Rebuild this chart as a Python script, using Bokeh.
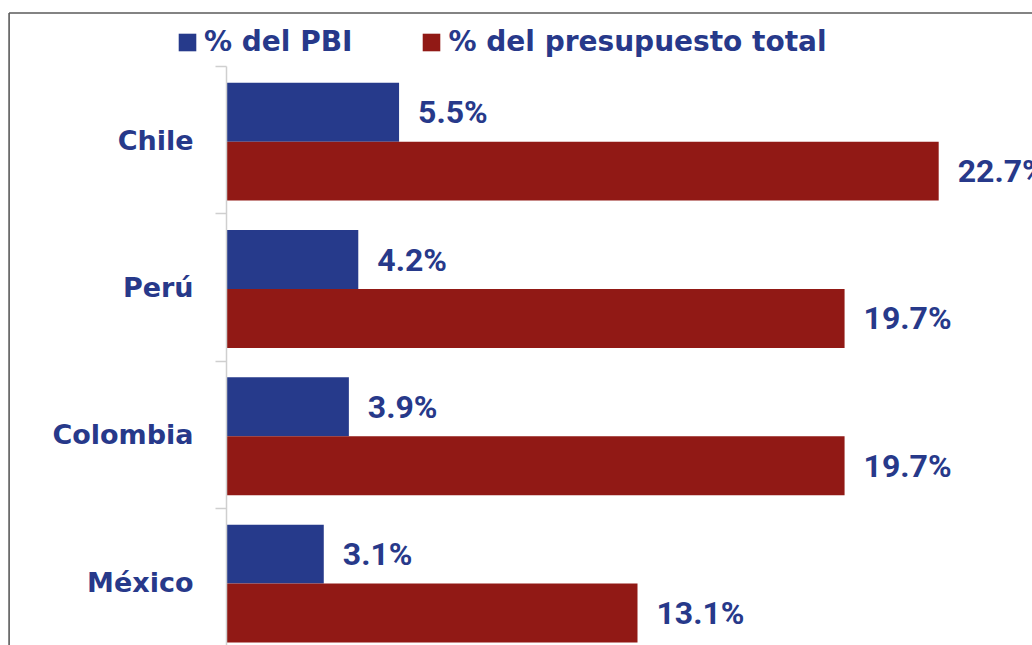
from bokeh.plotting import figure
from bokeh.models import (Range1d, LinearAxis, FixedTicker, Legend, LegendItem,
                          ColumnDataSource)
from bokeh.core.properties import value
from bokeh.embed import file_html
from bokeh.resources import INLINE

# ---- data ----
countries = ["Chile", "Perú", "Colombia", "México"]
pbi = [5.5, 4.2, 3.9, 3.1]
presupuesto = [22.7, 19.7, 19.7, 13.1]
series_names = ["% del PBI", "% del presupuesto total"]

# ---- style ----
BLUE = "#263a8b"
RED = "#911915"
TEXT = "#27398a"
AXIS = "#cfcfcf"
FONT_NUM = "Roboto"
FONT_TXT = "DejaVu Sans"

n = len(countries)
centers = [n - i - 0.5 for i in range(n)]
boundaries = list(range(n + 1))
BAR_H = 0.40
SPLIT = -0.01
y_pbi = [c + SPLIT + BAR_H / 2 for c in centers]
y_pre = [c + SPLIT - BAR_H / 2 for c in centers]

W, H = 1032, 645
x_start, x_end = -7.204, 25.69
y_start, y_end = 0.070, 4.448
xb, yb = -6.93, 4.363

src_pbi = ColumnDataSource(dict(country=countries, y=y_pbi, v=pbi,
                                lab=[f"{v:.1f}%" for v in pbi]))
src_pre = ColumnDataSource(dict(country=countries, y=y_pre, v=presupuesto,
                                lab=[f"{v:.1f}%" for v in presupuesto]))

p = figure(width=W, height=H, output_backend="svg", toolbar_location=None,
           x_range=Range1d(x_start, x_end), y_range=Range1d(y_start, y_end),
           x_axis_type=None, y_axis_type=None, min_border=0,
           outline_line_color=None, background_fill_color="white",
           border_fill_color="white")

# outer frame (top and left)
p.segment(x0=[xb, xb], y0=[y_start, yb], x1=[xb, x_end], y1=[yb, yb],
          line_color="#5a5a5a", line_width=1.6)

r1 = p.hbar(y="y", left=0, right="v", height=BAR_H, source=src_pbi,
            fill_color=BLUE, line_color=None)
r2 = p.hbar(y="y", left=0, right="v", height=BAR_H, source=src_pre,
            fill_color=RED, line_color=None)

for src in (src_pbi, src_pre):
    p.text(x="v", y="y", text="lab", source=src, x_offset=19, y_offset=0,
           text_baseline="middle", text_align="left",
           text_font=value(FONT_NUM), text_font_style="bold",
           text_font_size="32px", text_color=TEXT)

# axis with category labels
lab_axis = LinearAxis(ticker=FixedTicker(ticks=centers),
                      major_label_overrides={c: name for c, name in zip(centers, countries)},
                      fixed_location=0, axis_line_color=None,
                      major_tick_line_color=None, minor_tick_line_color=None,
                      major_tick_out=0, major_tick_in=0,
                      major_label_standoff=33,
                      major_label_text_font=FONT_TXT,
                      major_label_text_font_style="bold",
                      major_label_text_font_size="27px",
                      major_label_text_color=TEXT)
p.add_layout(lab_axis, "left")

# axis line with ticks at category boundaries
tick_axis = LinearAxis(ticker=FixedTicker(ticks=boundaries),
                       major_label_overrides={b: "" for b in boundaries},
                       fixed_location=0, bounds=(0, n),
                       axis_line_color=AXIS, axis_line_width=1.5,
                       major_tick_line_color=AXIS, major_tick_line_width=1.5,
                       major_tick_out=11, major_tick_in=0,
                       minor_tick_line_color=None)
p.add_layout(tick_axis, "left")

legend = Legend(items=[LegendItem(label=series_names[0], renderers=[r1]),
                       LegendItem(label=series_names[1], renderers=[r2])],
                orientation="horizontal", location=(176, 587),
                padding=0, margin=0, spacing=68, label_standoff=6,
                glyph_width=22, glyph_height=22,
                label_text_font=FONT_TXT, label_text_font_style="bold",
                label_text_font_size="28px", label_text_color=TEXT,
                background_fill_alpha=0, border_line_color=None)
p.add_layout(legend, "center")

open("out.html", "w").write(file_html(p, INLINE))
